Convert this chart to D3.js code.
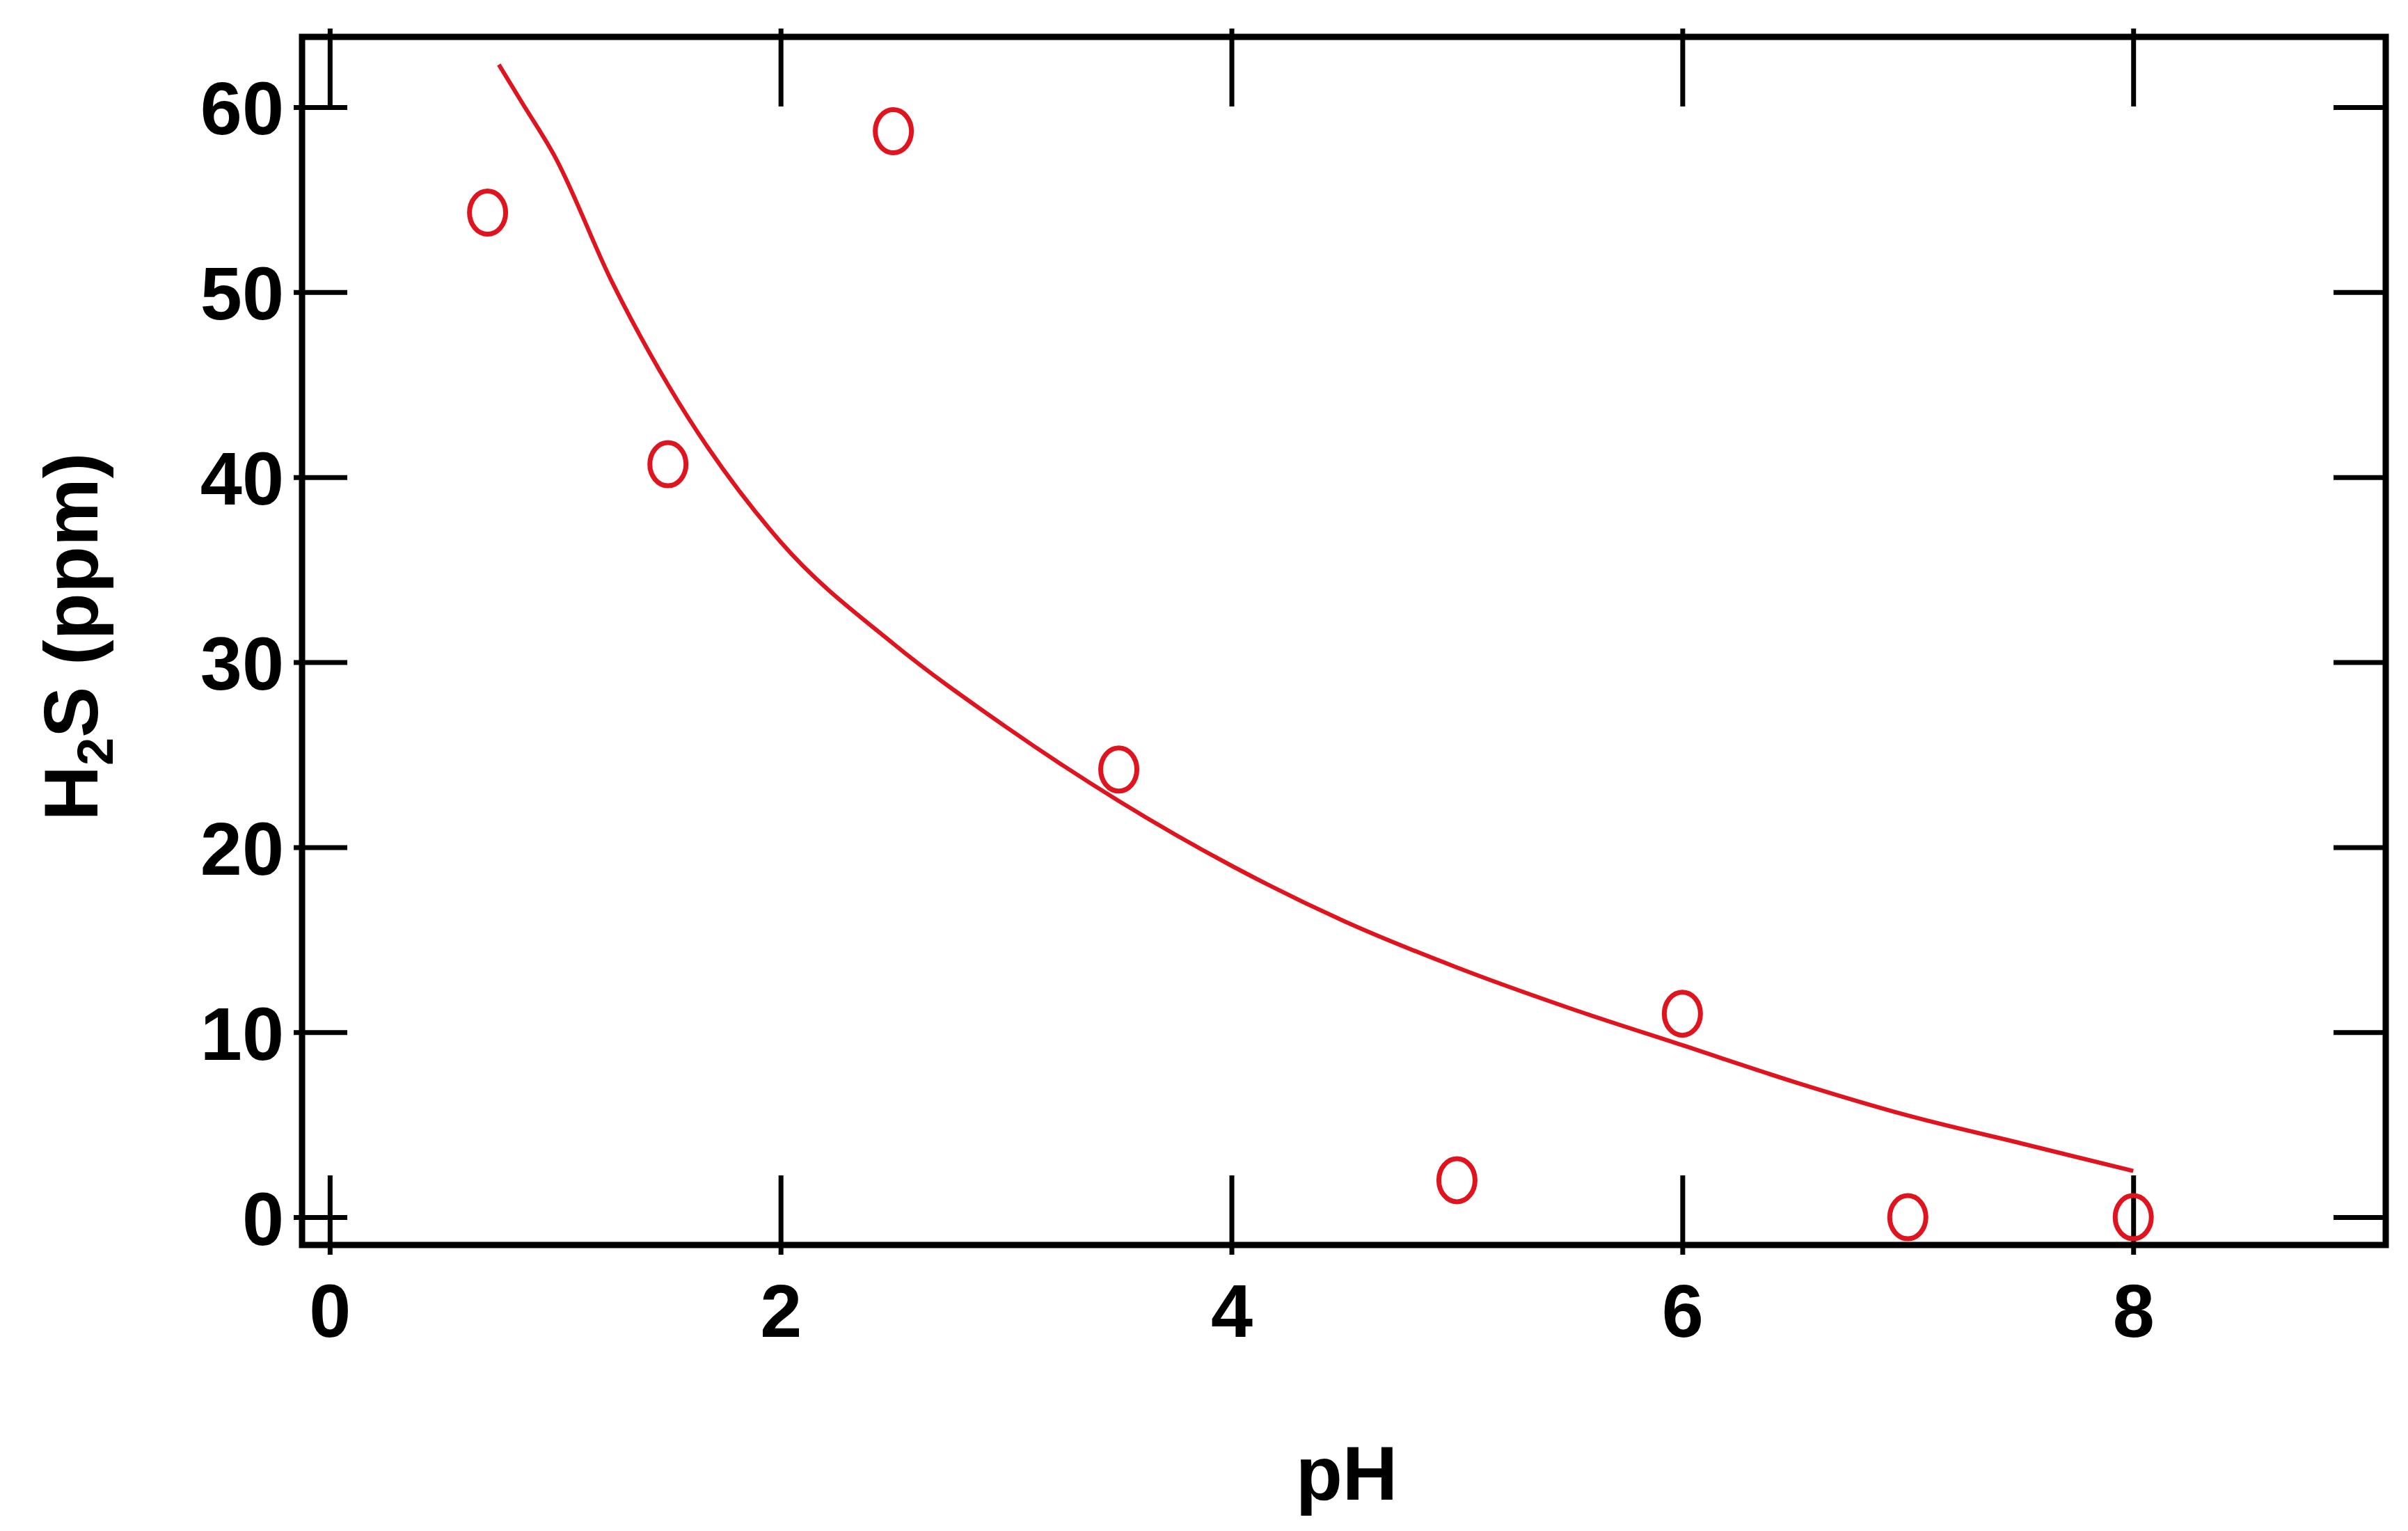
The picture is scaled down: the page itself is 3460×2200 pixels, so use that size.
<!DOCTYPE html><html><head><meta charset="utf-8"><script src="https://cdn.jsdelivr.net/npm/d3@7"></script>
<style>body{margin:0;background:#fff}</style></head><body><svg id="c" width="3460" height="2200"></svg>
<script>
const pointsX=[0.7,1.5,2.5,3.5,5,6,7,8];
const pointsY=[54.3,40.7,58.7,24.2,2,11,0,0];
const fitX=[0.75,0.85,1,1.25,1.5,2,2.5,3,3.5,4,4.5,5,5.5,6,6.5,7,7.5,8];
const fitY=[62.3,60.3,57.3,50.6,45,36.5,31,26.5,22.5,19,16,13.5,11.3,9.3,7.3,5.5,4,2.5];
const xTicks=[0,2,4,6,8];
const yTicks=[0,10,20,30,40,50,60];
const L=434,R=3428,T=53,B=1789;
const x=d3.scaleLinear().domain([-0.123,9.12]).range([L,R]);
const y=d3.scaleLinear().domain([-1.5,63.8]).range([B,T]);
const svg=d3.select('#c');
const red='#e0141e';
const font='"Liberation Sans",Arial,sans-serif';
svg.append('rect').attr('x',L).attr('y',T).attr('width',R-L).attr('height',B-T).attr('fill','none').attr('stroke','#000').attr('stroke-width',9);
const gb=svg.append('g').attr('transform',`translate(0,${B})`).call(d3.axisBottom(x).tickValues(xTicks).tickSize(-100).tickSizeOuter(0).tickPadding(55));
const gt=svg.append('g').attr('transform',`translate(0,${T})`).call(d3.axisTop(x).tickValues(xTicks).tickSize(-100).tickSizeOuter(0).tickFormat(''));
const gl=svg.append('g').attr('transform',`translate(${L},0)`).call(d3.axisLeft(y).tickValues(yTicks).tickSize(-65).tickSizeOuter(0).tickPadding(-40));
const gr=svg.append('g').attr('transform',`translate(${R},0)`).call(d3.axisRight(y).tickValues(yTicks).tickSize(-75).tickSizeOuter(0).tickFormat(''));
[gb,gt,gl,gr].forEach(g=>{g.select('.domain').remove();g.selectAll('.tick line').attr('stroke','#000').attr('stroke-width',7);});
gb.selectAll('.tick line').attr('y2',-100).attr('y1',14);
gt.selectAll('.tick line').attr('y1',-12);
gl.selectAll('.tick line').attr('x1',-12);
gl.selectAll('.tick text').attr('x',-26);
[gb,gl].forEach(g=>g.selectAll('.tick text').attr('font-family',font).attr('font-weight','bold').attr('font-size',108).attr('fill','#000'));
gl.selectAll('.tick text').attr('dy','0.36em');
svg.append('path').datum(fitX.map((v,i)=>[v,fitY[i]])).attr('d',d3.line().x(d=>x(d[0])).y(d=>y(d[1])).curve(d3.curveMonotoneX)).attr('fill','none').attr('stroke',red).attr('stroke-width',6);
svg.selectAll('ellipse').data(pointsX.map((v,i)=>[v,pointsY[i]])).join('ellipse').attr('cx',d=>x(d[0])).attr('cy',d=>y(d[1])).attr('rx',26).attr('ry',31).attr('fill','none').attr('stroke',red).attr('stroke-width',7);
svg.append('text').attr('x',1935).attr('y',2155).attr('text-anchor','middle').attr('font-family',font).attr('font-weight','bold').attr('font-size',110).text('pH');
const yl=svg.append('text').attr('transform','translate(140,915) rotate(-90)').attr('text-anchor','middle').attr('font-family',font).attr('font-weight','bold').attr('font-size',110);
yl.append('tspan').text('H');
yl.append('tspan').attr('font-size',72).attr('dy',22).text('2');
yl.append('tspan').attr('dy',-22).text('S (ppm)');
</script></body></html>
